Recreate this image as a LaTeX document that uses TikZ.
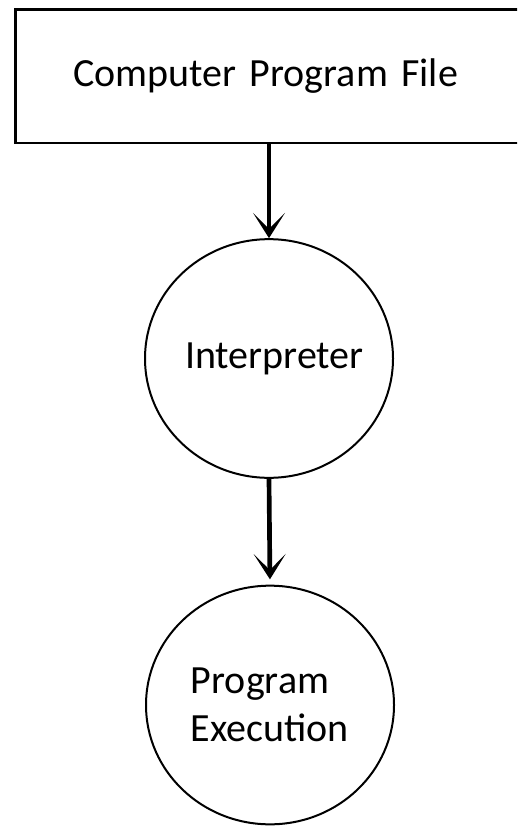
\documentclass[tikz,border=0pt]{standalone}
\usepackage{fontspec}
\setmainfont{Carlito}
\usetikzlibrary{shapes.geometric,arrows.meta}

\begin{document}
\begin{tikzpicture}[x=0.75pt,y=-0.75pt]
      \tikzstyle{every node}+=[font=\fontsize{30}{36}\selectfont]
      \tikzstyle{bubble}=[draw,ellipse,line width=1.5pt,minimum width=186pt,minimum height=179pt,inner xsep=-15pt,inner ysep=0pt,align=left]
      \tikzstyle{flow}=[line width=3.5pt,-{Stealth[length=19pt,width=24pt,inset=12pt]}]
      \useasboundingbox (0,0) rectangle (517,827);
      \clip (0,0) rectangle (517,827);
      \node [draw,line width=2pt,anchor=west,minimum height=100pt,text width=300pt,inner xsep=43.5pt,align=left] (file) at (14,76.5) {Computer Program File};
      \node [bubble] (interp) at (269,358.5) {\hspace*{8pt}Interpreter};
      \node [bubble] (exec) at (270,705) {Program\\Execution};
      \draw [flow] (file.south -| interp.north) -- (interp.north);
      \draw [flow,shorten >=4pt] (interp.south) -- (exec.north);
      \end{tikzpicture}
\end{document}
